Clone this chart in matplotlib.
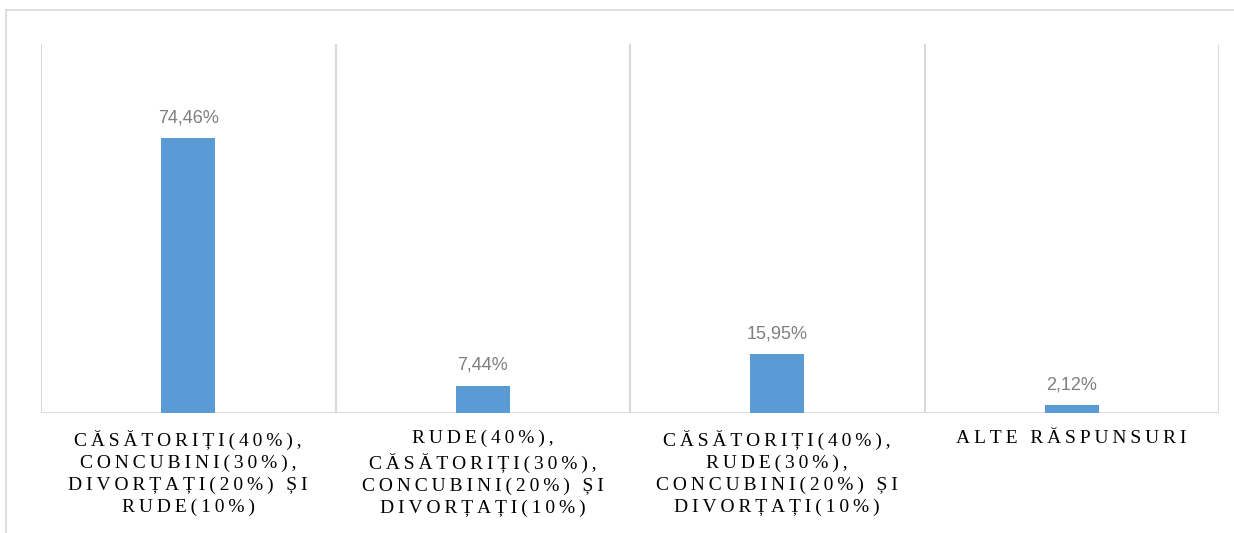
import matplotlib
matplotlib.use("Agg")
import matplotlib.pyplot as plt
from matplotlib.lines import Line2D
from matplotlib.transforms import blended_transform_factory

categories = [
    "CĂSĂTORIȚI(40%),\nCONCUBINI(30%),\nDIVORȚAȚI(20%) ȘI\nRUDE(10%)",
    "RUDE(40%),\nCĂSĂTORIȚI(30%),\nCONCUBINI(20%) ȘI\nDIVORȚAȚI(10%)",
    "CĂSĂTORIȚI(40%),\nRUDE(30%),\nCONCUBINI(20%) ȘI\nDIVORȚAȚI(10%)",
    "ALTE RĂSPUNSURI",
]
values = [74.46, 7.44, 15.95, 2.12]
value_labels = ["74,46%", "7,44%", "15,95%", "2,12%"]

W, H = 1234, 533
fig = plt.figure(figsize=(W / 100, H / 100), dpi=100)
ax = fig.add_axes([41 / W, 1 - 413 / H, (1219 - 41) / W, (413 - 44) / H])

grid_c = "#d9d9d9"
bar_c = "#5b9bd5"

x = list(range(len(values)))
ax.bar(x, values, width=0.183, color=bar_c, zorder=3)
ax.set_xlim(-0.5, len(values) - 0.5)
ax.set_ylim(0, 100)
for s in ax.spines.values():
    s.set_visible(False)
ax.set_xticks([])
ax.set_yticks([])
for b in [i - 0.5 for i in range(len(values) + 1)]:
    ax.axvline(b, color=grid_c, lw=1.5, zorder=1)
ax.axhline(0, color=grid_c, lw=2, zorder=2)

for xi, v, lab in zip(x, values, value_labels):
    ax.annotate(lab, (xi, v), xytext=(0, 11.5), textcoords="offset points",
                ha="center", va="baseline", fontsize=13, color="#7f7f7f",
                family=["Liberation Sans", "DejaVu Sans"])


def spaced(s):
    return "\n".join("\u2009".join(line) for line in s.split("\n"))


trans = blended_transform_factory(ax.transData, fig.transFigure)
for xi, cat in zip(x, categories):
    ax.text(xi, 1 - 430 / H, spaced(cat), transform=trans, ha="center", va="top",
            fontsize=14, linespacing=1.36, color="#000000",
            family=["Liberation Serif", "DejaVu Serif"], multialignment="center")

fig.add_artist(Line2D([6 / W, 1], [1 - 10 / H, 1 - 10 / H], color=grid_c, lw=1.2,
                      transform=fig.transFigure))
fig.add_artist(Line2D([6 / W, 6 / W], [0, 1 - 10 / H], color=grid_c, lw=1.2,
                      transform=fig.transFigure))

fig.savefig("out.png", dpi=100)
